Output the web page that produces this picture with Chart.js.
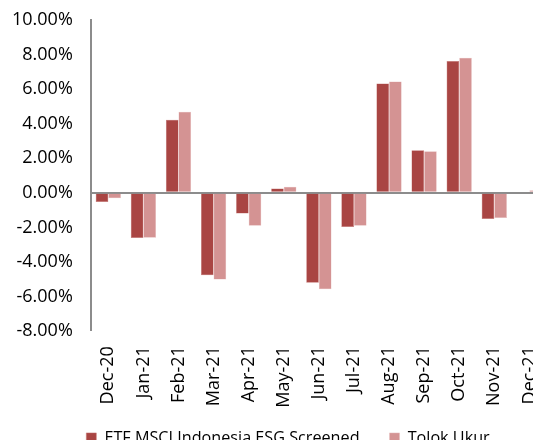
<!DOCTYPE html>
<html>
<head>
<meta charset="utf-8">
<script src="https://cdn.jsdelivr.net/npm/chart.js@4/dist/chart.umd.min.js"></script>
<style>
html,body{margin:0;padding:0;overflow:hidden;background:#fff;}
#wrap{width:564px;height:465px;position:absolute;left:-6px;top:-9px;}
</style>
</head>
<body>
<div id="wrap"><canvas id="c"></canvas></div>
<script>
const categories = ['Dec-20','Jan-21','Feb-21','Mar-21','Apr-21','May-21','Jun-21','Jul-21','Aug-21','Sep-21','Oct-21','Nov-21','Dec-21'];
const etfReturns = [-0.53,-2.61,4.23,-4.76,-1.19,0.25,-5.20,-1.97,6.32,2.46,7.62,-1.52,0.00];
const benchmarkReturns = [-0.31,-2.60,4.69,-5.01,-1.91,0.35,-5.58,-1.91,6.43,2.40,7.81,-1.46,0.15];
const seriesNames = ['ETF MSCI Indonesia ESG Screened','Tolok Ukur'];
const yMin = -8, yMax = 10, yStep = 2;

const FONT = '"Open Sans", Lato, sans-serif';
const shiftLegend = {
  id: 'shiftLegend',
  afterLayout(chart) {
    const lg = chart.legend;
    if (lg) { lg.left += 12; lg.right += 12; }
  }
};
const chart = new Chart(document.getElementById('c'), {
  type: 'bar',
  data: {
    labels: categories,
    datasets: [
      {label: seriesNames[0], data: etfReturns, backgroundColor: '#A94543', borderColor: '#C47471', borderWidth: 0.5},
      {label: seriesNames[1], data: benchmarkReturns, backgroundColor: '#D49393', borderColor: '#E6BDBD', borderWidth: 0.5}
    ]
  },
  plugins: [shiftLegend],
  options: {
    responsive: true,
    maintainAspectRatio: false,
    animation: false,
    datasets: {bar: {categoryPercentage: 0.72, barPercentage: 1.0}},
    layout: {padding: {top: 0, right: 0, left: 0, bottom: 0}},
    plugins: {
      legend: {
        position: 'bottom',
        labels: {boxWidth: 10, boxHeight: 10, color: '#000', font: {family: FONT, size: 16.2}, padding: 30}
      },
      tooltip: {enabled: false}
    },
    scales: {
      x: {
        grid: {display: false},
        border: {display: false},
        afterFit: (s) => { s.height -= 15; s._computeLabelArea = () => undefined; },
        ticks: {minRotation: 90, maxRotation: 90, color: '#000', font: {family: FONT, size: 18}, padding: 7, autoSkip: false}
      },
      y: {
        min: yMin, max: yMax,
        grid: {
          drawTicks: false,
          color: (ctx) => ctx.tick && ctx.tick.value === 0 ? '#8c8c8c' : 'rgba(0,0,0,0)',
          lineWidth: (ctx) => ctx.tick && ctx.tick.value === 0 ? 2 : 0
        },
        border: {display: true, color: '#8c8c8c', width: 2},
        ticks: {stepSize: yStep, color: '#000', font: {family: FONT, size: 18}, padding: 18,
          callback: (v) => v.toFixed(2) + '%'}
      }
    }
  }
});
</script>
</body>
</html>
